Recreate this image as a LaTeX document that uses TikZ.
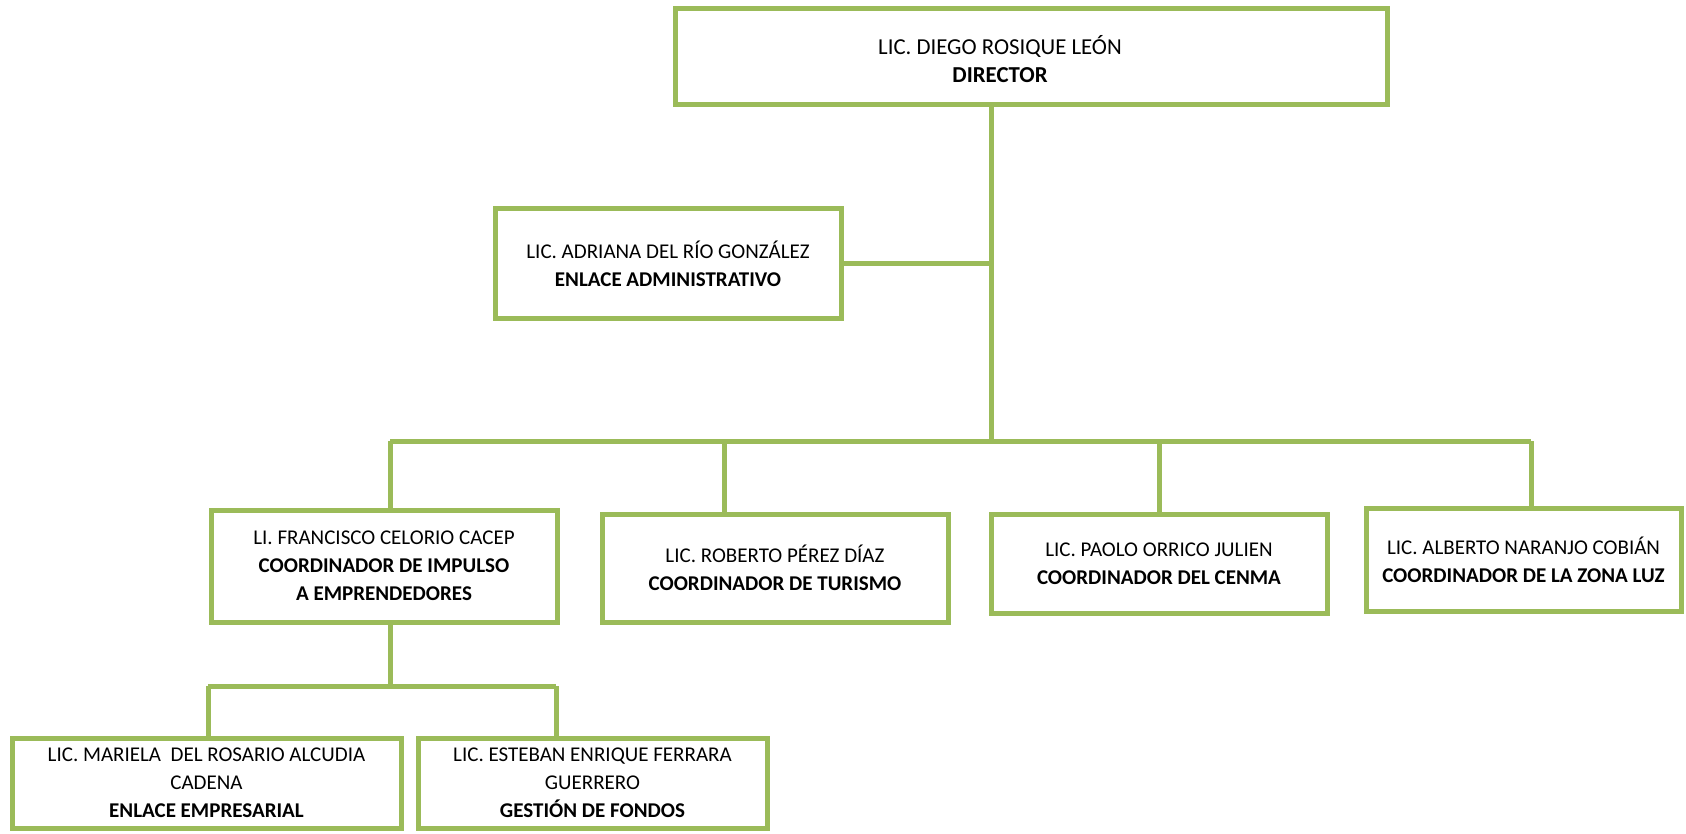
\documentclass[tikz,border=0pt]{standalone}
\usepackage{fontspec}
\setmainfont{Carlito}
\usetikzlibrary{calc,positioning}
\definecolor{orggreen}{RGB}{155,187,89}
\tikzset{%
  box/.style = { draw=orggreen, line width=2.5pt, fill=white, align=center, inner sep=2pt, outer sep=0pt,
                 font=\fontsize{10.5}{14}\selectfont },
  boxtext/.style = { align=center, inner sep=0pt, font=\fontsize{11.4}{14.2}\selectfont },
  link/.style = { draw=orggreen, line width=2.5pt },
}

\begin{document}
\begin{tikzpicture}[x=0.5pt,y=-0.5pt]

  \useasboundingbox (0,0) rectangle (1686,834);

  % Director
  \node[box, minimum width=356pt, minimum height=48pt] (dir) at (1031.5,57) {};
  \node[boxtext] (dirtxt) at ($(dir.center)+(-31.5,2)$) {LIC. DIEGO ROSIQUE LEÓN\\\textbf{DIRECTOR}};

  % Enlace administrativo
  \node[box, minimum width=173pt, minimum height=55pt] (adm) at (668,263.5) {LIC. ADRIANA DEL RÍO GONZÁLEZ\\\textbf{ENLACE ADMINISTRATIVO}};

  % Coordinadores
  \node[box, minimum width=173pt, minimum height=56pt] (fco) at (384,566) {LI. FRANCISCO CELORIO CACEP\\\textbf{COORDINADOR DE IMPULSO}\\\textbf{A EMPRENDEDORES}};
  \node[box, minimum width=173pt, minimum height=54pt] (rob) at (775,568) {LIC. ROBERTO PÉREZ DÍAZ\\\textbf{COORDINADOR DE TURISMO}};
  \node[box, minimum width=168pt, minimum height=49.5pt] (pao) at (1159,563.5) {LIC. PAOLO ORRICO JULIEN\\\textbf{COORDINADOR DEL CENMA}};
  \node[box, minimum width=157.5pt, minimum height=51.5pt] (alb) at (1523.5,559.5) {LIC. ALBERTO NARANJO COBIÁN\\\textbf{COORDINADOR DE LA ZONA LUZ}};

  % Impulso a emprendedores
  \node[box, minimum width=194.5pt, minimum height=45pt] (mar) at (206.5,783) {LIC. MARIELA \ DEL ROSARIO ALCUDIA\\CADENA\\\textbf{ENLACE EMPRESARIAL}};
  \node[box, minimum width=174.5pt, minimum height=45pt] (est) at (592.5,783) {LIC. ESTEBAN ENRIQUE FERRARA\\GUERRERO\\\textbf{GESTIÓN DE FONDOS}};

  % Bus points
  \coordinate (hub) at (991,441);
  \coordinate (busL) at (390,441);
  \coordinate (busR) at (1531,441);
  \coordinate (dropR) at (724,441);
  \coordinate (dropP) at (1159,441);
  \coordinate (subL) at (208,686);
  \coordinate (subR) at (556,686);

  % Connectors
  \draw[link] (dir.south -| hub) -- (hub);
  \draw[link] (adm.east) -- (adm.east -| hub);
  \draw[link] (busL) -- (busR);
  \draw[link] (busL) -- (busL |- fco.north);
  \draw[link] (dropR) -- (dropR |- rob.north);
  \draw[link] (dropP) -- (dropP |- pao.north);
  \draw[link] (busR) -- (busR |- alb.north);
  \draw[link] (fco.south -| busL) -- (busL |- subL);
  \draw[link] (subL) -- (subR);
  \draw[link] (subL) -- (subL |- mar.north);
  \draw[link] (subR) -- (subR |- est.north);

\end{tikzpicture}
\end{document}
